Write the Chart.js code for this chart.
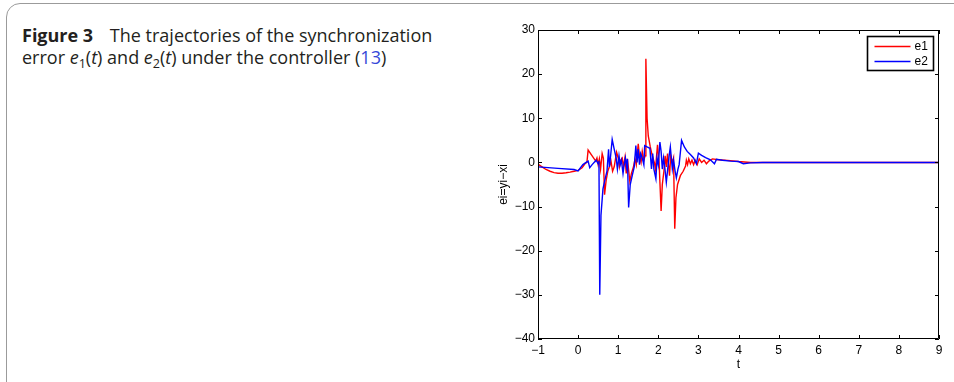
<!DOCTYPE html>
<html>
<head>
<meta charset="utf-8">
<script src="https://cdn.jsdelivr.net/npm/chart.js@4.4.1/dist/chart.umd.min.js"></script>
<style>
html,body{margin:0;padding:0;background:#fff;width:954px;height:382px;overflow:hidden;}
#frame{position:absolute;left:6px;top:3px;width:1000px;height:400px;border:1.5px solid #9b9b9b;border-radius:14px;box-sizing:border-box;}
#cap{position:absolute;left:22px;top:24.3px;font-family:"Open Sans",sans-serif;font-size:18px;line-height:22px;color:#231f20;white-space:nowrap;}
#cap sub{font-size:70%;vertical-align:-0.28em;line-height:0;}
#cap .ref{color:#3548d8;}
#cap .gap{margin-left:12px;}
#wrap{position:absolute;left:480px;top:0;width:474px;height:382px;}
</style>
</head>
<body>
<div id="frame"></div>
<div id="cap"><b>Figure 3</b> <span class="gap">The trajectories of the synchronization</span><br>error <i>e</i><sub>1</sub>(<i>t</i>) and <i>e</i><sub>2</sub>(<i>t</i>) under the controller (<span class="ref">13</span>)</div>
<div id="wrap"><canvas id="c" width="474" height="382"></canvas></div>
<script>
// ---- data ----
const seriesNames = ["e1", "e2"];
const xTicks = [-1, 0, 1, 2, 3, 4, 5, 6, 7, 8, 9];
const yTicks = [30, 20, 10, 0, -10, -20, -30, -40];

const tE1 = [-1,-0.9,-0.8,-0.7,-0.6,-0.5,-0.4,-0.3,-0.2,-0.1,0,
  0.1,0.18,0.22,0.25,0.35,0.44,0.47,0.5,0.53,0.56,0.6,0.63,0.66,0.7,0.74,0.78,0.82,0.86,0.9,0.96,
  1.0,1.03,1.06,1.1,1.13,1.17,1.2,1.23,1.29,1.33,1.38,1.42,1.45,1.5,1.53,1.57,1.6,1.64,1.67,1.69,1.72,1.75,1.8,1.85,1.9,1.93,1.98,
  2.02,2.07,2.1,2.14,2.17,2.2,2.23,2.28,2.31,2.35,2.38,2.41,2.44,2.48,2.55,2.62,2.68,2.7,2.73,2.76,2.8,2.84,2.88,2.92,2.97,
  3.02,3.08,3.14,3.2,3.26,3.35,3.5,3.8,4.0,4.3,5,6,7,8,9];
const e1 = [-0.4,-1.0,-1.6,-2.0,-2.3,-2.45,-2.45,-2.35,-2.2,-2.0,-1.8,
  -1.2,-0.2,0,2.8,1.5,0.3,1,-0.5,0.8,-1.5,2,1,-7.3,-4,-2,-1,0.3,-2,-1,2.3,
  1,-1,0.5,1,-1,1.2,-2.5,0.8,-4.3,-2.5,-1,0.8,-0.5,4.2,1.5,0,2.5,0.5,1.5,23.5,10,6,3.5,1.5,0,-1.5,4,
  0,-11,-5,-2,1.5,-1,2,-3,1.5,0,1,-15,-8,-5,-3,-2,-0.8,0.5,-0.5,0.8,-0.3,0.5,-0.5,0.5,-0.5,
  0.8,0,0.5,-0.3,0.3,0.8,0.6,0.4,0.2,0,0,0,0,0,0];

const tE2 = [-1,-0.5,-0.1,0,0.12,0.2,0.25,0.29,0.35,0.45,0.5,0.52,0.54,0.57,0.62,0.68,0.72,0.76,0.78,0.8,0.85,0.9,0.95,0.98,
  1.02,1.05,1.08,1.12,1.15,1.18,1.21,1.23,1.26,1.3,1.35,1.4,1.44,1.47,1.5,1.53,1.56,1.6,1.64,1.66,1.72,1.79,1.83,1.86,1.89,1.94,1.97,
  2.0,2.04,2.07,2.1,2.13,2.16,2.2,2.24,2.27,2.3,2.35,2.38,2.42,2.45,2.49,2.52,2.58,2.65,2.72,2.8,2.88,2.95,
  3.0,3.08,3.18,3.3,3.4,3.45,3.6,3.8,4.0,4.12,4.3,4.6,5,6,7,8,9];
const e2 = [-1.0,-1.35,-1.6,-1.9,-0.5,0,0.3,-1.2,-0.5,0.5,-0.3,0.4,-30,-12,-6,-3.5,-2,3,-1,0.5,5.2,3,1,-1.5,
  1.5,-0.5,0.5,-2.5,-0.5,1,-1,0.8,-10.2,-5,-3,-1,3.8,0,3,-0.5,2,1,-0.5,3.8,3.5,3.2,-1.5,2,-1.5,-3.7,1,
  -0.5,4.6,2.5,-1.5,1,-1,-4.5,-1,1.5,3.5,-1.5,0.5,-2,-3.5,-1.5,-0.5,5,3.5,2.5,1.8,1,-0.3,
  2.1,1.6,1.1,0.6,-0.3,0.7,0.5,0.3,0.2,-0.3,-0.1,0,0,0,0,0,0];

const lineColors = ["#ff0000", "#0000ff"];

function fmt(v){ return String(v).replace('-', '\u2212'); }

const boxPlugin = {
  id: 'matlabBox',
  afterDatasetsDraw(chart){
    const {ctx, chartArea:a, scales:{x, y}} = chart;
    ctx.save();
    ctx.strokeStyle = '#000';
    ctx.lineWidth = 1;
    ctx.beginPath();
    ctx.rect(a.left + 0.5, a.top + 0.5, a.right - a.left - 1, a.bottom - a.top - 1);
    ctx.stroke();
    const L = 4;
    ctx.beginPath();
    xTicks.forEach(v => {
      const px = Math.round(x.getPixelForValue(v)) + 0.5;
      ctx.moveTo(px, a.bottom); ctx.lineTo(px, a.bottom - L);
      ctx.moveTo(px, a.top); ctx.lineTo(px, a.top + L);
    });
    yTicks.forEach(v => {
      const py = Math.round(y.getPixelForValue(v)) + 0.5;
      ctx.moveTo(a.left, py); ctx.lineTo(a.left + L, py);
      ctx.moveTo(a.right, py); ctx.lineTo(a.right - L, py);
    });
    ctx.stroke();
    // legend
    const w = 66, h = 34;
    const lx = Math.round(a.right - 6 - w) + 0.5, ly = Math.round(a.top + 6) + 0.5;
    ctx.fillStyle = '#fff';
    ctx.fillRect(lx, ly, w, h);
    ctx.lineWidth = 1.6;
    ctx.strokeRect(lx, ly, w, h);
    ctx.lineWidth = 1.3;
    ctx.font = '12px "Liberation Sans", Arial, sans-serif';
    ctx.textBaseline = 'middle';
    ctx.textAlign = 'left';
    chart.data.datasets.forEach((ds, i) => {
      const yy = Math.round(ly + 9 + i * 15) + 0.5;
      ctx.strokeStyle = ds.borderColor;
      ctx.beginPath();
      ctx.moveTo(lx + 7, yy); ctx.lineTo(lx + 43, yy);
      ctx.stroke();
      ctx.fillStyle = '#000';
      ctx.fillText(ds.label, lx + 47, yy + 0.5);
    });
    ctx.restore();
  }
};

const tickFont = {family: '"Liberation Sans", Arial, sans-serif', size: 12};

new Chart(document.getElementById('c'), {
  type: 'line',
  data: {
    datasets: [
      {label: seriesNames[0], data: tE1.map((t, i) => ({x: t, y: e1[i]})), borderColor: lineColors[0], order: 1},
      {label: seriesNames[1], data: tE2.map((t, i) => ({x: t, y: e2[i]})), borderColor: lineColors[1], order: 0}
    ]
  },
  options: {
    responsive: false,
    animation: false,
    events: [],
    elements: {line: {borderWidth: 1.4, tension: 0, fill: false}, point: {radius: 0}},
    layout: {padding: {top: 30, right: 15, left: 0, bottom: 0}},
    plugins: {legend: {display: false}, tooltip: {enabled: false}},
    scales: {
      x: {
        type: 'linear', min: -1, max: 9,
        afterBuildTicks(s){ s.ticks = xTicks.map(v => ({value: v})); },
        afterFit(s){ s.height = 43; },
        ticks: {padding: 4, color: '#000', font: tickFont, maxRotation: 0, autoSkip: false, callback: v => fmt(v)},
        grid: {display: false, drawTicks: false},
        border: {display: false},
        title: {display: true, text: 't', color: '#000', font: tickFont, padding: {top: 0, bottom: 10}}
      },
      y: {
        type: 'linear', min: -40, max: 30,
        afterBuildTicks(s){ s.ticks = yTicks.map(v => ({value: v})); },
        afterFit(s){ s.width = 58; },
        ticks: {padding: 3, color: '#000', font: tickFont, autoSkip: false, callback: v => fmt(v)},
        grid: {display: false, drawTicks: false},
        border: {display: false},
        title: {display: true, text: 'ei=yi\u2212xi', color: '#000', font: tickFont, padding: {top: 16, bottom: 0}}
      }
    }
  },
  plugins: [boxPlugin]
});
</script>
</body>
</html>
